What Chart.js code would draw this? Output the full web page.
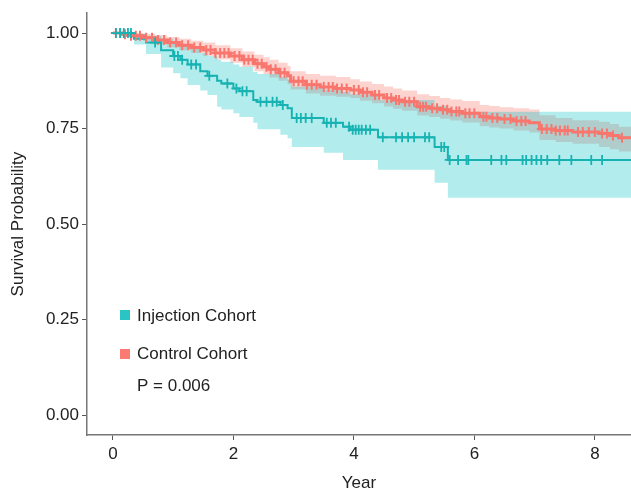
<!DOCTYPE html>
<html>
<head>
<meta charset="utf-8">
<script src="https://cdn.jsdelivr.net/npm/chart.js@4"></script>
<style>
  body { margin: 0; background: #fff; }
</style>
</head>
<body>
<canvas id="km" width="631" height="494"></canvas>
<script>
// Injection cohort (teal) - KM steps and 95% CI
const injTime  = [0, 0.35, 0.55, 0.8, 1.0, 1.12, 1.24, 1.45, 1.57, 1.73, 1.8, 2.0, 2.1, 2.33, 2.4, 2.78, 2.9, 2.97, 3.5, 3.82, 3.94, 4.4, 5.34, 5.56];
const injSurv  = [1, 0.985, 0.975, 0.955, 0.94, 0.93, 0.918, 0.9, 0.888, 0.875, 0.868, 0.855, 0.848, 0.825, 0.82, 0.812, 0.803, 0.778, 0.765, 0.755, 0.747, 0.727, 0.702, 0.668];
const injLower = [1, 0.97, 0.945, 0.91, 0.895, 0.882, 0.864, 0.85, 0.838, 0.807, 0.8, 0.79, 0.78, 0.765, 0.748, 0.734, 0.725, 0.702, 0.687, 0.668, 0.668, 0.642, 0.608, 0.569];
const injUpper = [1, 0.998, 0.993, 0.985, 0.975, 0.968, 0.96, 0.948, 0.94, 0.93, 0.925, 0.918, 0.912, 0.898, 0.893, 0.885, 0.878, 0.86, 0.852, 0.846, 0.84, 0.825, 0.81, 0.794];
const injCensor = [0.05, 0.12, 0.18, 0.25, 0.3, 0.7, 1.02, 1.08, 1.15, 1.3, 1.38, 1.6, 1.9, 2.05, 2.15, 2.22, 2.45, 2.55, 2.65, 2.72, 2.82, 3.05, 3.12, 3.2, 3.3, 3.55, 3.62, 3.7, 3.92, 3.98, 4.03, 4.08, 4.13, 4.2, 4.27, 4.48, 4.7, 4.8, 4.9, 5.0, 5.18, 5.25, 5.45, 5.5, 5.59, 5.73, 5.87, 5.9, 6.28, 6.45, 6.53, 6.8, 6.86, 6.95, 7.03, 7.11, 7.21, 7.41, 7.61, 7.94, 8.12];

// Control cohort (red)
const ctlTime  = [0, 0.15, 0.3, 0.5, 0.7, 0.9, 1.1, 1.3, 1.5, 1.7, 1.95, 2.15, 2.35, 2.5, 2.6, 2.75, 2.9, 2.95, 3.2, 3.44, 3.7, 3.94, 4.1, 4.3, 4.5, 4.65, 4.8, 5.05, 5.25, 5.43, 5.6, 5.8, 6.09, 6.25, 6.42, 6.65, 6.91, 7.08, 7.35, 7.63, 8.07, 8.25, 8.4];
const ctlSurv  = [1, 0.997, 0.993, 0.988, 0.982, 0.975, 0.968, 0.962, 0.956, 0.948, 0.94, 0.93, 0.92, 0.912, 0.905, 0.896, 0.888, 0.874, 0.865, 0.859, 0.855, 0.851, 0.845, 0.838, 0.83, 0.825, 0.82, 0.807, 0.803, 0.799, 0.795, 0.79, 0.781, 0.778, 0.775, 0.77, 0.765, 0.749, 0.745, 0.741, 0.737, 0.732, 0.726];
const ctlUpper = [1, 1, 1, 0.998, 0.994, 0.99, 0.985, 0.98, 0.975, 0.968, 0.96, 0.952, 0.943, 0.937, 0.93, 0.922, 0.914, 0.9, 0.893, 0.888, 0.885, 0.879, 0.873, 0.867, 0.86, 0.855, 0.85, 0.84, 0.835, 0.83, 0.826, 0.822, 0.812, 0.809, 0.806, 0.803, 0.8, 0.785, 0.778, 0.772, 0.768, 0.762, 0.755];
const ctlLower = [1, 0.993, 0.986, 0.979, 0.971, 0.963, 0.955, 0.948, 0.94, 0.931, 0.922, 0.911, 0.9, 0.892, 0.884, 0.875, 0.866, 0.852, 0.842, 0.836, 0.833, 0.83, 0.823, 0.816, 0.808, 0.802, 0.797, 0.784, 0.78, 0.776, 0.771, 0.766, 0.756, 0.753, 0.75, 0.745, 0.74, 0.72, 0.715, 0.71, 0.702, 0.696, 0.69];
const ctlCensor = [0.05, 0.12, 0.2, 0.3, 0.38, 0.45, 0.55, 0.65, 0.75, 0.85, 0.95, 1.05, 1.15, 1.25, 1.35, 1.45, 1.55, 1.62, 1.7, 1.78, 1.85, 1.92, 2.02, 2.1, 2.18, 2.25, 2.32, 2.4, 2.47, 2.55, 2.62, 2.7, 2.78, 2.85, 3.0, 3.08, 3.15, 3.22, 3.3, 3.38, 3.5, 3.58, 3.65, 3.72, 3.8, 3.88, 4.0, 4.08, 4.15, 4.22, 4.35, 4.42, 4.55, 4.62, 4.7, 4.75, 4.85, 4.92, 5.0, 5.1, 5.15, 5.2, 5.3, 5.38, 5.48, 5.55, 5.62, 5.7, 5.75, 5.85, 5.92, 6.0, 6.15, 6.2, 6.3, 6.38, 6.5, 6.6, 6.7, 6.78, 6.85, 7.12, 7.2, 7.28, 7.35, 7.42, 7.5, 7.55, 7.72, 7.8, 7.9, 8.0, 8.12, 8.2, 8.3, 8.45];

const xTicks = [0, 2, 4, 6, 8];
const yTicks = [0, 0.25, 0.5, 0.75, 1];
const lastYear = 8.6;
const pValue = 'P = 0.006';

const teal = '#17b3b3';
const red = '#f8766d';
const FONT = '"Liberation Sans", Arial, Helvetica, sans-serif';

// step curve points, carried on to the right edge
function steps(times, vals) {
  const pts = times.map((t, i) => ({ x: t, y: vals[i] }));
  pts.push({ x: lastYear, y: vals[vals.length - 1] });
  return pts;
}
function censorPts(cens, times, vals) {
  return cens.map(t => {
    let v = vals[0];
    for (let i = 0; i < times.length; i++) if (times[i] <= t) v = vals[i];
    return { x: t, y: v };
  });
}

const legendPlugin = {
  id: 'kmLegend',
  afterDraw(chart) {
    const ctx = chart.ctx;
    ctx.save();
    ctx.font = '17px ' + FONT;
    ctx.textBaseline = 'middle';
    ctx.fillStyle = '#2bc4c4';
    ctx.fillRect(120, 310, 10, 10);
    ctx.fillStyle = '#fb7b74';
    ctx.fillRect(120, 349, 10, 10);
    ctx.fillStyle = '#222';
    ctx.fillText('Injection Cohort', 137, 316);
    ctx.fillText('Control Cohort', 137, 354);
    ctx.fillText(pValue, 137, 386);
    ctx.restore();
  }
};

const lineDefaults = { pointRadius: 0, stepped: 'before', tension: 0 };

new Chart(document.getElementById('km'), {
  type: 'line',
  data: {
    datasets: [
      { label: 'Control upper', data: steps(ctlTime, ctlUpper), ...lineDefaults, borderWidth: 0,
        fill: '+1', backgroundColor: 'rgba(248,118,109,0.32)', order: 6 },
      { label: 'Control lower', data: steps(ctlTime, ctlLower), ...lineDefaults, borderWidth: 0, fill: false, order: 6 },
      { label: 'Injection upper', data: steps(injTime, injUpper), ...lineDefaults, borderWidth: 0,
        fill: '+1', backgroundColor: 'rgba(0,191,196,0.3)', order: 5 },
      { label: 'Injection lower', data: steps(injTime, injLower), ...lineDefaults, borderWidth: 0, fill: false, order: 5 },
      { label: 'Injection Cohort', data: steps(injTime, injSurv), ...lineDefaults, borderColor: teal, borderWidth: 2, fill: false, order: 2 },
      { label: 'Control Cohort', data: steps(ctlTime, ctlSurv), ...lineDefaults, borderColor: red, borderWidth: 3, fill: false, order: 3 },
      { label: 'Injection censored', data: censorPts(injCensor, injTime, injSurv), showLine: false,
        pointStyle: 'cross', pointRadius: 5, pointBorderWidth: 1.8, pointBorderColor: teal, order: 0 },
      { label: 'Control censored', data: censorPts(ctlCensor, ctlTime, ctlSurv), showLine: false,
        pointStyle: 'cross', pointRadius: 5, pointBorderWidth: 2, pointBorderColor: red, order: 1 }
    ]
  },
  options: {
    responsive: false,
    animation: false,
    layout: { autoPadding: false, padding: { top: 13, right: 0, left: 0, bottom: 0 } },
    plugins: { legend: { display: false }, tooltip: { enabled: false } },
    scales: {
      x: {
        type: 'linear',
        min: -0.43,
        max: lastYear,
        afterBuildTicks: s => { s.ticks = xTicks.map(v => ({ value: v })); },
        afterFit: s => { s.height = 59; },
        ticks: { color: '#222', font: { size: 17, family: FONT }, padding: 4 },
        grid: { drawOnChartArea: false, drawTicks: true, tickLength: 5, color: '#555' },
        border: { display: true, color: '#777', width: 1.5 },
        title: { display: true, text: 'Year', color: '#222', font: { size: 17, family: FONT }, padding: { top: 0, bottom: 0 } }
      },
      y: {
        min: -0.052,
        max: 1.052,
        afterBuildTicks: s => { s.ticks = yTicks.map(v => ({ value: v })); },
        afterFit: s => { s.width = 87; },
        ticks: { color: '#222', font: { size: 17, family: FONT }, padding: 3, callback: v => v.toFixed(2) },
        grid: { drawOnChartArea: false, drawTicks: true, tickLength: 5, color: '#555' },
        border: { display: true, color: '#777', width: 1.5 },
        title: { display: true, text: 'Survival Probability', color: '#222', font: { size: 17, family: FONT }, padding: { top: 8, bottom: 0 } }
      }
    }
  },
  plugins: [legendPlugin]
});
</script>
</body>
</html>
